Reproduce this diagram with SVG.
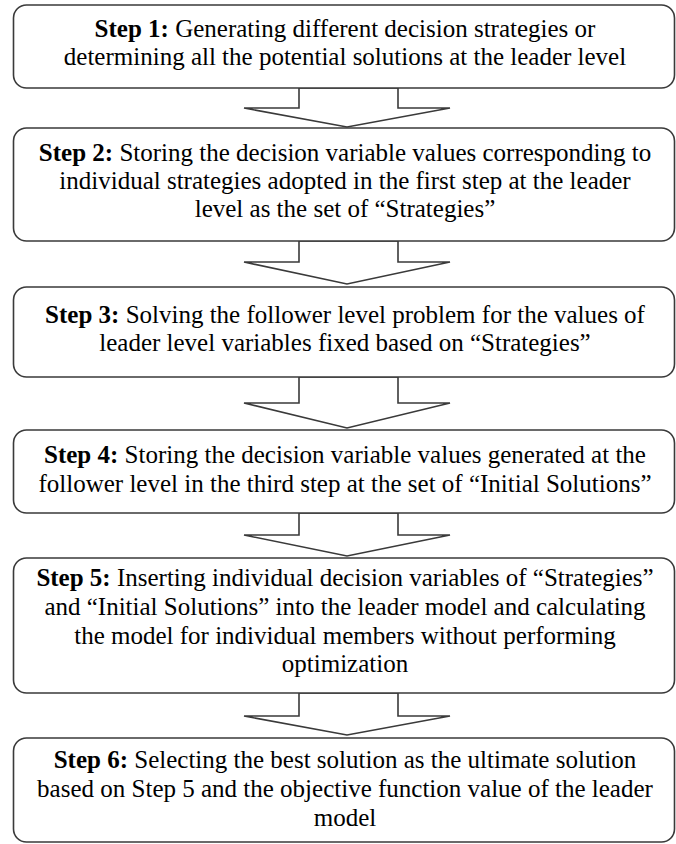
<svg xmlns="http://www.w3.org/2000/svg" width="676" height="844" viewBox="0 0 676 844">
<style>
.box{fill:#ffffff;stroke:#3a3a3a;stroke-width:1.6}
.arr{fill:#ffffff;stroke:#3a3a3a;stroke-width:1.6;stroke-linejoin:miter}
text{font-family:"Liberation Serif","Times New Roman",serif;font-size:25px;fill:#000;text-anchor:middle}
.b{font-weight:bold}
</style>
<rect width="676" height="844" fill="#ffffff"/>
<g id="connectors">
<polygon class="arr" points="299,88 398,88 398,108 450,108 347,127 244,108 299,108"/>
<polygon class="arr" points="299,241 398,241 398,262 450,262 347,284 244,262 299,262"/>
<polygon class="arr" points="299,377 398,377 398,403 450,403 347,428 244,403 299,403"/>
<polygon class="arr" points="299,513 398,513 398,535 450,535 347,556 244,535 299,535"/>
<polygon class="arr" points="299,693 398,693 398,716 450,716 347,735 244,716 299,716"/>
</g>
<g id="step1">
<rect class="box" x="13.5" y="5" width="661" height="83" rx="13"/>
<text x="345" y="37"><tspan class="b">Step 1:</tspan> Generating different decision strategies or</text>
<text x="345" y="65">determining all the potential solutions at the leader level</text>
</g>
<g id="step2">
<rect class="box" x="13.5" y="128" width="661" height="113" rx="13"/>
<text x="345" y="161"><tspan class="b">Step 2:</tspan> Storing the decision variable values corresponding to</text>
<text x="345" y="189">individual strategies adopted in the first step at the leader</text>
<text x="345" y="217">level as the set of “Strategies”</text>
</g>
<g id="step3">
<rect class="box" x="13.5" y="287" width="661" height="90" rx="13"/>
<text x="345" y="323"><tspan class="b">Step 3:</tspan> Solving the follower level problem for the values of</text>
<text x="345" y="351">leader level variables fixed based on “Strategies”</text>
</g>
<g id="step4">
<rect class="box" x="13.5" y="430" width="661" height="83" rx="13"/>
<text x="345" y="463"><tspan class="b">Step 4:</tspan> Storing the decision variable values generated at the</text>
<text x="345" y="492">follower level in the third step at the set of “Initial Solutions”</text>
</g>
<g id="step5">
<rect class="box" x="13.5" y="558" width="661" height="135" rx="13"/>
<text x="345" y="586"><tspan class="b">Step 5:</tspan> Inserting individual decision variables of “Strategies”</text>
<text x="345" y="615">and “Initial Solutions” into the leader model and calculating</text>
<text x="345" y="644">the model for individual members without performing</text>
<text x="345" y="672">optimization</text>
</g>
<g id="step6">
<rect class="box" x="13.5" y="738" width="661" height="104" rx="13"/>
<text x="345" y="768"><tspan class="b">Step 6:</tspan> Selecting the best solution as the ultimate solution</text>
<text x="345" y="797">based on Step 5 and the objective function value of the leader</text>
<text x="345" y="826">model</text>
</g>
</svg>
